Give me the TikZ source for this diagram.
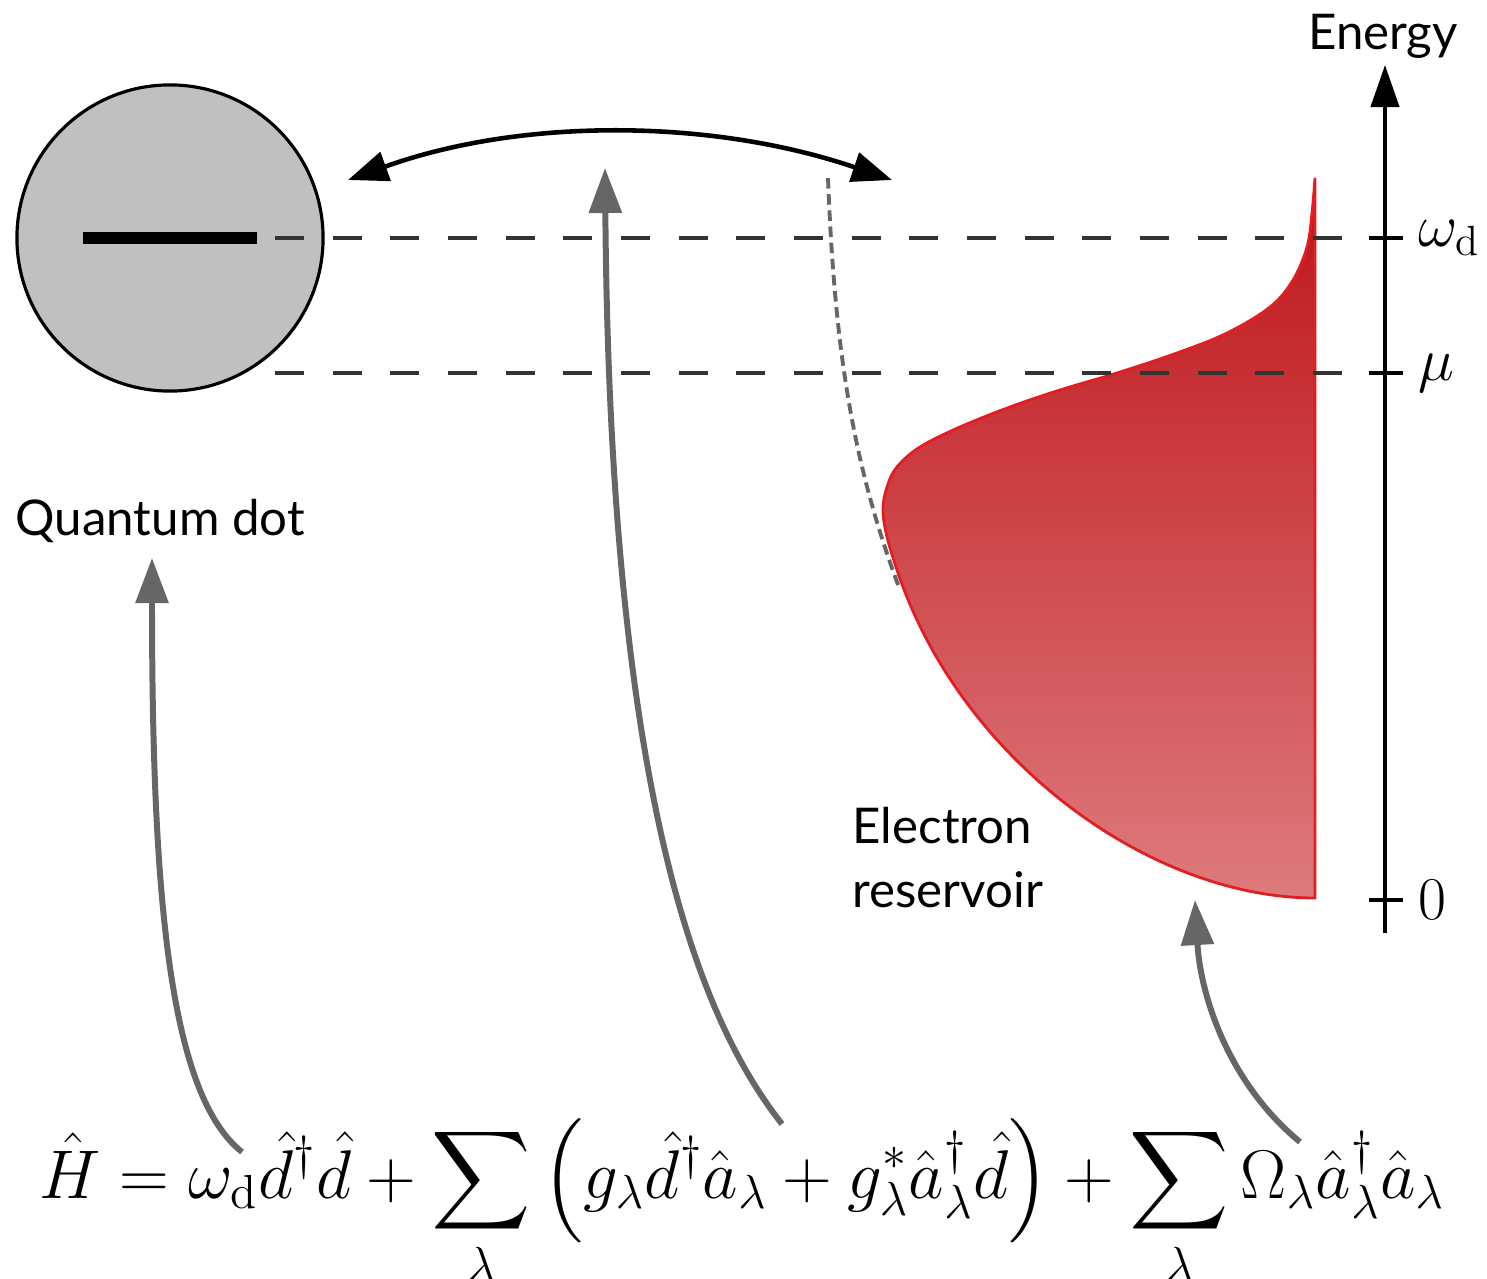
\documentclass[tikz,border=0pt]{standalone}
\usepackage{amsmath}
\usepackage{fontspec}
\newfontfamily\labelfont{Lato}
\usetikzlibrary{arrows.meta, positioning, calc}
\definecolor{dotgray}{RGB}{192,192,192}
\definecolor{mapgray}{RGB}{102,102,102}
\definecolor{restop}{RGB}{190,20,26}
\definecolor{resbot}{RGB}{221,122,124}
\definecolor{resedge}{RGB}{226,30,34}
\tikzset{
  dotcirc/.style={circle, draw, line width=0.9pt, fill=dotgray,
                  minimum size=3.06cm, inner sep=0pt},
  levelbar/.style={line width=3.2pt},
  levelline/.style={line width=1.1pt, black!80, dash pattern=on 8.2pt off 8.2pt},
  tickmark/.style={line width=1.2pt},
  hoparr/.style={{Triangle[length=4mm, width=3mm]}-{Triangle[length=4mm, width=3mm]},
                 line width=1.3pt},
  axisarr/.style={-{Triangle[length=4.2mm, width=2.8mm]}, line width=1.2pt},
  maparr/.style={-{Triangle[length=4.5mm, width=3.2mm]}, line width=1.7pt, mapgray},
  lbl/.style={font=\labelfont\fontsize{14}{18.2}\selectfont, inner sep=0pt},
  axlbl/.style={font=\LARGE, inner sep=0pt, anchor=west},
  guide/.style={mapgray, line width=1.1pt, dash pattern=on 3pt off 1.6pt},
}
\begin{document}
\begin{tikzpicture}[x=0.01cm, y=-0.01cm]
  \useasboundingbox (0,0) rectangle (1487,1279);

  \def\resedge{plot[smooth, tension=0.6] coordinates {(1315,178) (1312,213) (1307,247)
      (1293,280) (1270,307) (1227,333) (1177,353) (1117,373) (1060,390) (1010,407)
      (960,427) (920,447) (897,467) (887,487) (883,510) (887,537) (897,570)}
    .. controls (960,760) and (1150,898) .. (1315,898) -- cycle}

  \node[dotcirc] (dot) at (170,238) {};
  \draw[levelbar] ([xshift=-0.87cm]dot.center) -- ([xshift=0.87cm]dot.center);
  \node[lbl, anchor=base west] (dotname) at (15,535) {Quantum dot};

  \shade[top color=restop, bottom color=resbot] \resedge;
  \draw[resedge, line width=0.8pt] \resedge;
  \node[lbl, anchor=base west, align=left] (resname) at (852,907) {Electron\\reservoir};

  \draw[guide] (828,178) .. controls (835,360) and (855,470) .. (900,590);

  \coordinate (axbot) at (1385,933);
  \coordinate (axtop) at (1385,65);
  \draw[axisarr] (axbot) -- (axtop);
  \node[lbl, anchor=base] (energy) at (1383,50) {Energy};

  \foreach \yy/\nm/\txt in {238/wd/$\omega_{\mathrm{d}}$, 373/mu/$\mu$} {
    \coordinate (\nm left) at (275,\yy);
    \coordinate (\nm tick) at (1385,\yy);
    \draw[levelline] (\nm left) -- (\nm tick);
    \draw[tickmark] ([xshift=-0.16cm]\nm tick) -- ([xshift=0.18cm]\nm tick);
    \node[axlbl] (\nm) at (1418,\yy) {\txt};
  }
  \coordinate (zerotick) at (1385,900);
  \draw[tickmark] ([xshift=-0.16cm]zerotick) -- ([xshift=0.18cm]zerotick);
  \node[axlbl] (zero) at (1418,900) {$0$};

  \coordinate (hopL) at (348,180);
  \coordinate (hopR) at (892,180);
  \draw[hoparr] (hopL) .. controls (520,118) and (710,118) .. (hopR);

  \node[anchor=base, inner sep=0pt, font=\huge, scale=0.945] (ham) at (742,1198)
    {$\displaystyle \hat{H} = \omega_{\mathrm{d}}\hat{d}^{\dagger}\hat{d}
      + \sum_{\lambda}\left(g_{\lambda}\hat{d}^{\dagger}\hat{a}_{\lambda}
      + g^{*}_{\lambda}\hat{a}^{\dagger}_{\lambda}\hat{d}\right)
      + \sum_{\lambda}\Omega_{\lambda}\hat{a}^{\dagger}_{\lambda}\hat{a}_{\lambda}$};

  \coordinate (termdot) at (242,1152);
  \coordinate (termhop) at (782,1124);
  \coordinate (termres) at (1300,1142);
  \coordinate (dotmark) at (152,558);
  \coordinate (hopmark) at (605,168);
  \coordinate (resmark) at (1195,900);
  \draw[maparr] (termdot) .. controls (170,1095) and (152,900) .. (dotmark);
  \draw[maparr] (termhop) .. controls (700,1020) and (610,800) .. (hopmark);
  \draw[maparr] (termres) .. controls (1225,1080) and (1200,990) .. (resmark);
\end{tikzpicture}
\end{document}
